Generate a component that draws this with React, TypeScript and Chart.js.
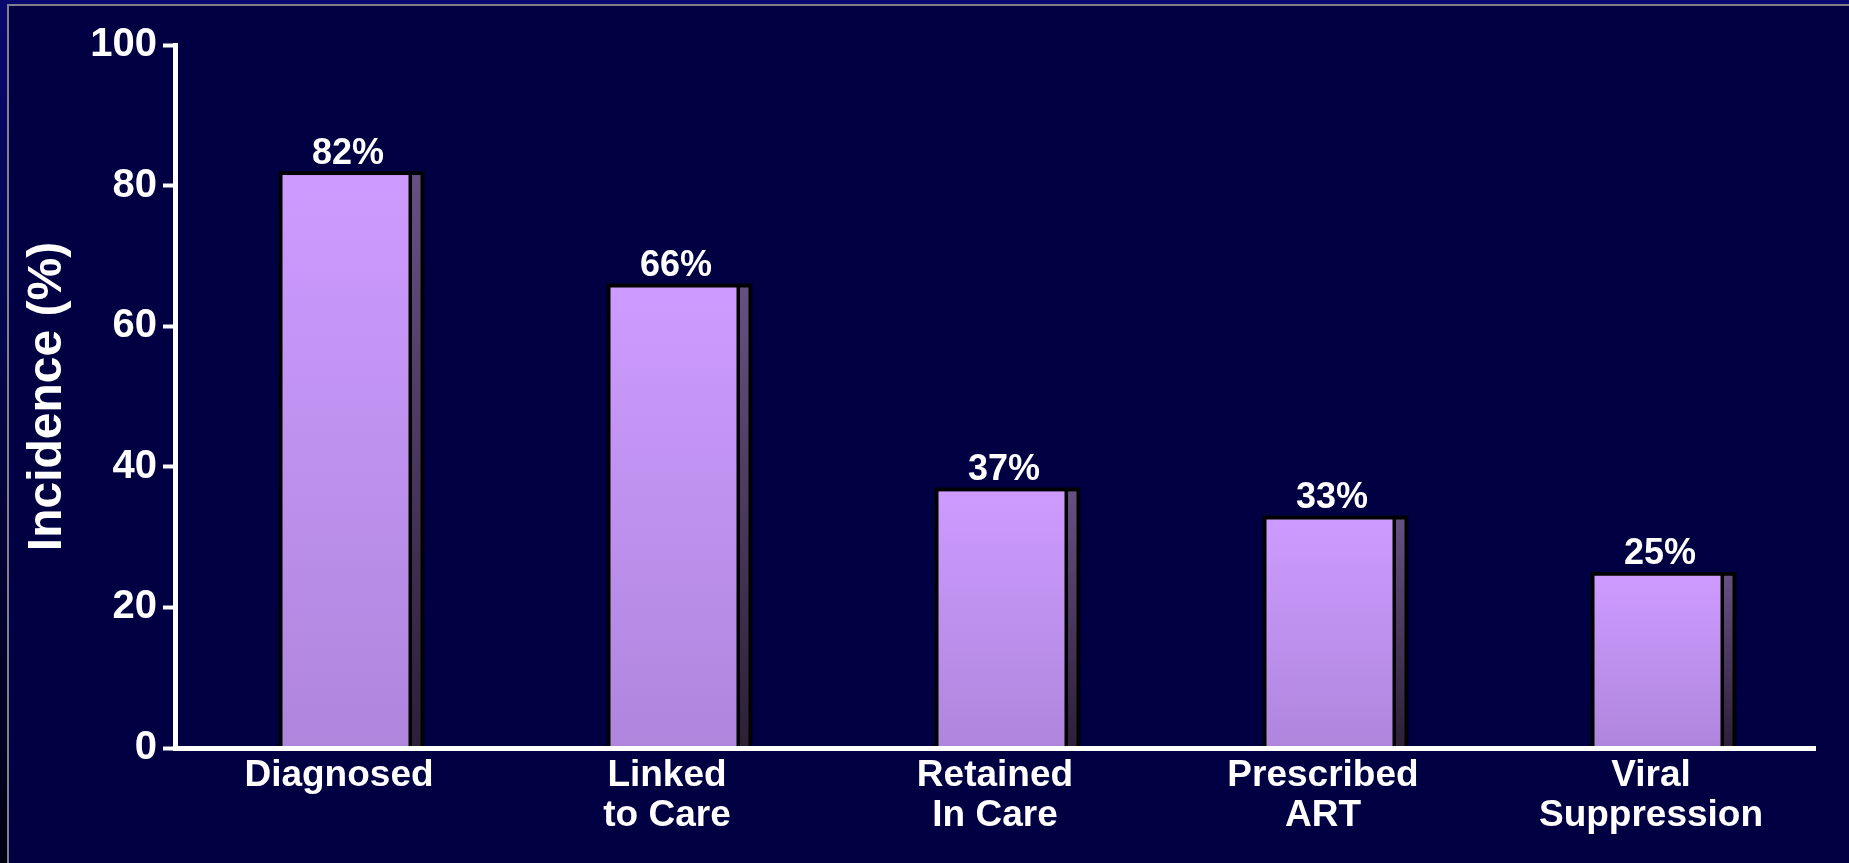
import React, { useEffect, useRef } from "react";
import { Chart, registerables } from "chart.js";

Chart.register(...registerables);

// ---- data ----
const categories: (string | string[])[] = [
  "Diagnosed",
  ["Linked", "to Care"],
  ["Retained", "In Care"],
  ["Prescribed", "ART"],
  ["Viral", "Suppression"],
];
const incidence: number[] = [82, 66, 37, 33, 25];
const valueLabels: string[] = ["82%", "66%", "37%", "33%", "25%"];
const yTicks: number[] = [0, 20, 40, 60, 80, 100];
const yTitle = "Incidence (%)";

const FONT = "'Liberation Sans', Arial, Helvetica, sans-serif";
const SHIFT = 12.5;

const bar3dPlugin = {
  id: "bar3d",
  beforeDatasetsDraw(chart: any) {
    chart.ctx.save();
    chart.ctx.translate(SHIFT, 0);
  },
  afterDatasetsDraw(chart: any) {
    const ctx: CanvasRenderingContext2D = chart.ctx;
    const meta = chart.getDatasetMeta(0);
    meta.data.forEach((bar: any, i: number) => {
      const { x, y, base, width } = bar.getProps(["x", "y", "base", "width"], true);
      const left = x - width / 2;
      const right = x + width / 2;
      const b = 3.5;
      const top = y + b;
      const faceL = left + b;
      const faceR = right - 15.5;
      const g = ctx.createLinearGradient(0, top, 0, base);
      g.addColorStop(0, "#cd9bff");
      g.addColorStop(1, "#ae86dc");
      ctx.fillStyle = g;
      ctx.fillRect(faceL, top, faceR - faceL, base - top);
      const sL = right - 12;
      const sR = right - 3.5;
      const g2 = ctx.createLinearGradient(0, top, 0, base);
      g2.addColorStop(0, "#665083");
      g2.addColorStop(1, "#2c1f36");
      ctx.fillStyle = g2;
      ctx.fillRect(sL, top, sR - sL, base - top);
      ctx.fillStyle = "#ffffff";
      ctx.font = `bold 36px ${FONT}`;
      ctx.textAlign = "center";
      ctx.textBaseline = "alphabetic";
      ctx.fillText(valueLabels[i], (left + right) / 2 - 3.5, y - 8);
    });
    ctx.restore();
  },
};

export default function App() {
  const ref = useRef<HTMLCanvasElement | null>(null);

  useEffect(() => {
    if (!ref.current) return;
    const chart = new Chart(ref.current, {
      type: "bar",
      data: {
        labels: categories as any,
        datasets: [
          {
            data: incidence,
            backgroundColor: "#000000",
            borderWidth: 0,
            barThickness: 145,
          },
        ],
      },
      options: {
        responsive: false,
        animation: false,
        layout: { padding: { left: 0, top: 45, right: 34, bottom: 0 } },
        plugins: {
          legend: { display: false },
          tooltip: { enabled: false },
        },
        scales: {
          x: {
            offset: true,
            grid: { display: false, drawTicks: false },
            border: { display: true, color: "#ffffff", width: 5, z: 1 },
            ticks: {
              color: "#ffffff",
              padding: 8,
              maxRotation: 0,
              autoSkip: false,
              font: { family: FONT, size: 37, weight: "bold", lineHeight: 1.08 },
            },
            afterFit(scale: any) {
              scale.height = 115;
            },
          },
          y: {
            min: 0,
            max: 100,
            afterBuildTicks(scale: any) {
              scale.ticks = yTicks.map((v) => ({ value: v }));
            },
            grid: {
              drawOnChartArea: false,
              drawTicks: true,
              tickLength: 12,
              tickColor: "#ffffff",
              tickWidth: 4,
            },
            border: { display: true, color: "#ffffff", width: 5, z: 1 },
            ticks: {
              color: "#ffffff",
              padding: 6,
              font: { family: FONT, size: 40, weight: "bold" },
            },
            title: {
              display: true,
              text: yTitle,
              color: "#ffffff",
              padding: { top: 24, bottom: 0 },
              font: { family: FONT, size: 48, weight: "bold", lineHeight: 1 },
            },
            afterFit(scale: any) {
              scale.width = 175;
            },
          },
        },
      },
      plugins: [bar3dPlugin],
    });
    return () => chart.destroy();
  }, []);

  return (
    <div
      style={{
        position: "fixed",
        left: 0,
        top: 0,
        width: 1849,
        height: 863,
        overflow: "hidden",
        background: "linear-gradient(#08086e, #000014)",
      }}
    >
      <div
        style={{
          position: "absolute",
          left: 7,
          top: 4,
          right: 0,
          bottom: 0,
          borderLeft: "2px solid #80808c",
          borderTop: "2px solid #80808c",
          background: "#000042",
        }}
      />
      <canvas
        ref={ref}
        width={1849}
        height={863}
        style={{ position: "absolute", left: 0, top: 0, width: 1849, height: 863 }}
      />
    </div>
  );
}
